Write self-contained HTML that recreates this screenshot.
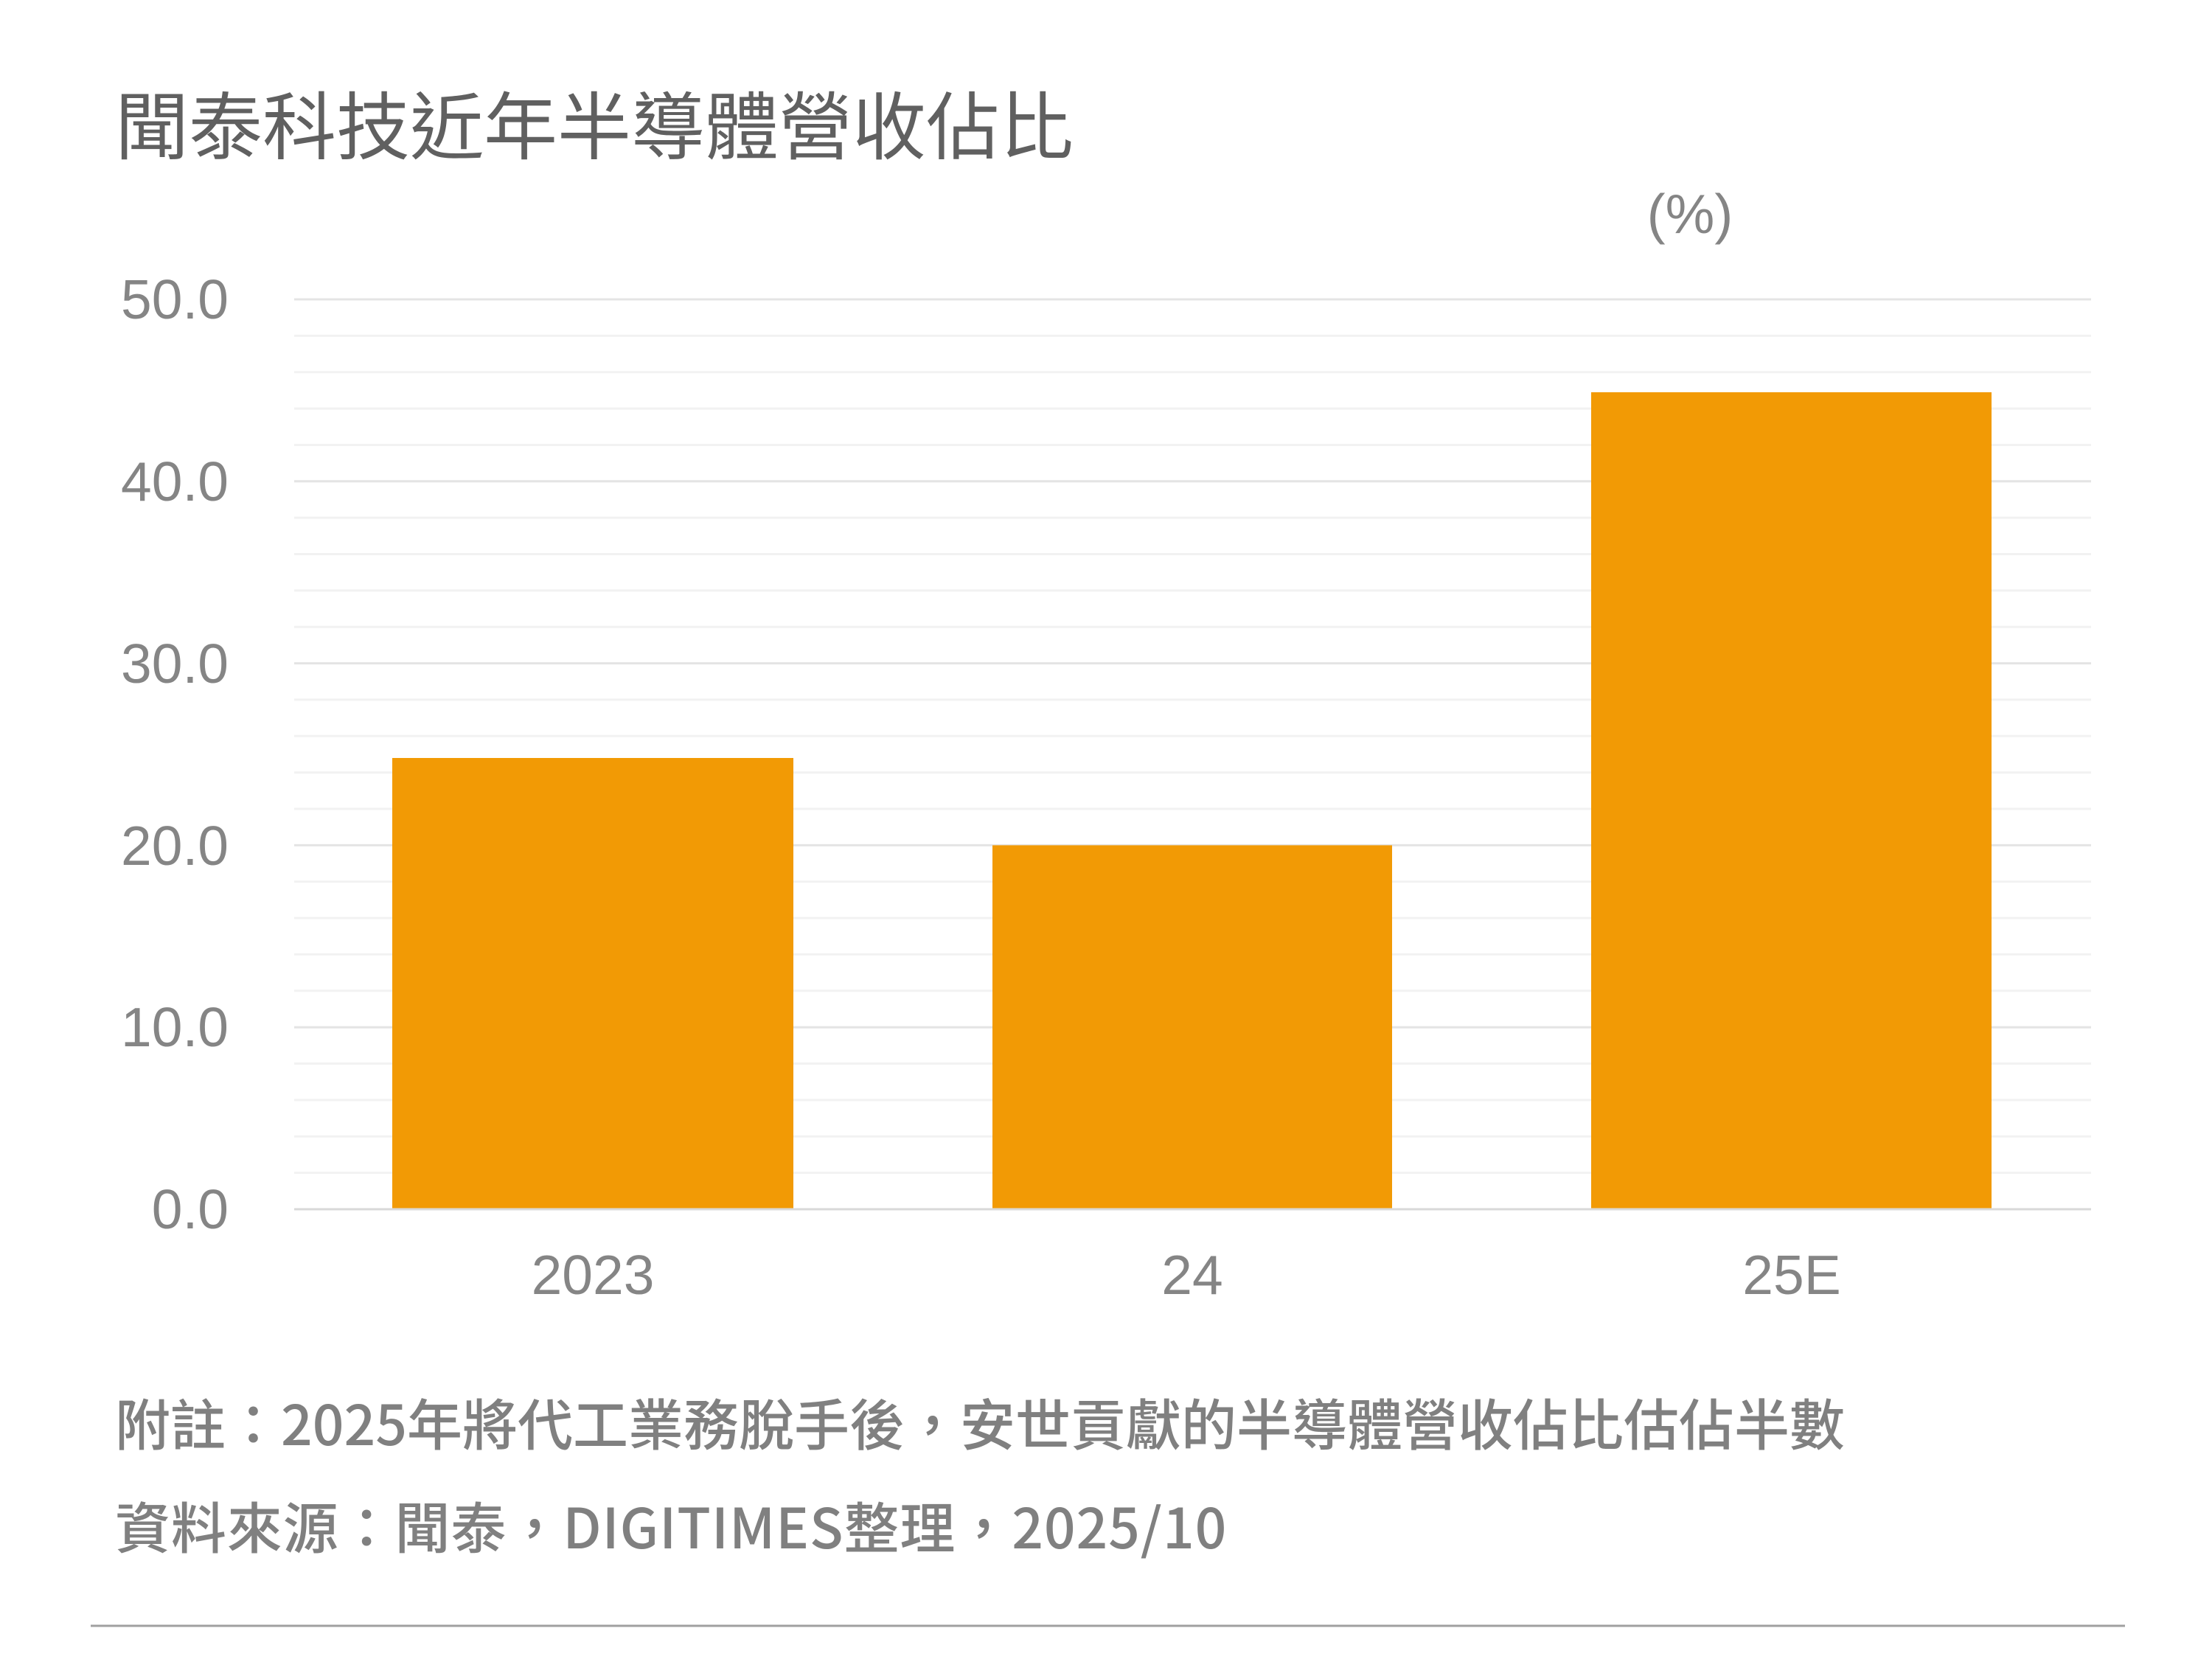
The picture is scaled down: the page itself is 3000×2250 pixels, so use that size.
<!DOCTYPE html>
<html><head><meta charset="utf-8"><style>
html,body{margin:0;padding:0;background:#fff}
body{width:3000px;height:2250px;position:relative;overflow:hidden}
.t{position:absolute;white-space:nowrap}
.n{font-size:75px;line-height:100px;color:#808080;font-weight:500;font-family:'Noto Sans CJK TC','Liberation Sans',sans-serif;}
</style></head><body>
<div class="t" style="left:156px;top:104px;font-size:100px;line-height:140px;color:#606060;font-family:'Liberation Sans','Noto Sans CJK TC',sans-serif;">聞泰科技近年半導體營收佔比</div>
<svg width="3000" height="2250" style="position:absolute;left:0;top:0" font-family="Liberation Sans, sans-serif">
<g stroke="#f2f2f2" stroke-width="3">
<line x1="399" x2="2836" y1="455.4" y2="455.4"/><line x1="399" x2="2836" y1="504.8" y2="504.8"/><line x1="399" x2="2836" y1="554.1" y2="554.1"/><line x1="399" x2="2836" y1="603.5" y2="603.5"/>
<line x1="399" x2="2836" y1="702.1" y2="702.1"/><line x1="399" x2="2836" y1="751.5" y2="751.5"/><line x1="399" x2="2836" y1="800.9" y2="800.9"/><line x1="399" x2="2836" y1="850.2" y2="850.2"/>
<line x1="399" x2="2836" y1="948.9" y2="948.9"/><line x1="399" x2="2836" y1="998.3" y2="998.3"/><line x1="399" x2="2836" y1="1047.7" y2="1047.7"/><line x1="399" x2="2836" y1="1097" y2="1097"/>
<line x1="399" x2="2836" y1="1195.7" y2="1195.7"/><line x1="399" x2="2836" y1="1245.1" y2="1245.1"/><line x1="399" x2="2836" y1="1294.4" y2="1294.4"/><line x1="399" x2="2836" y1="1343.8" y2="1343.8"/>
<line x1="399" x2="2836" y1="1442.5" y2="1442.5"/><line x1="399" x2="2836" y1="1491.9" y2="1491.9"/><line x1="399" x2="2836" y1="1541.2" y2="1541.2"/><line x1="399" x2="2836" y1="1590.6" y2="1590.6"/>
</g>
<g stroke="#e4e4e4" stroke-width="3">
<line x1="399" x2="2836" y1="406" y2="406"/><line x1="399" x2="2836" y1="652.8" y2="652.8"/><line x1="399" x2="2836" y1="899.6" y2="899.6"/><line x1="399" x2="2836" y1="1146.4" y2="1146.4"/><line x1="399" x2="2836" y1="1393.2" y2="1393.2"/>
</g>
<rect x="532" y="1028" width="544" height="612" fill="#F29A05"/>
<rect x="1346" y="1146.4" width="542" height="493.6" fill="#F29A05"/>
<rect x="2158" y="532" width="543" height="1108" fill="#F29A05"/>
<line x1="399" x2="2836" y1="1640" y2="1640" stroke="#d9d9d9" stroke-width="3"/>
<g fill="#858585" font-size="75" text-anchor="end">
<text x="310" y="432">50.0</text><text x="310" y="679">40.0</text><text x="310" y="926">30.0</text><text x="310" y="1173">20.0</text><text x="310" y="1419">10.0</text><text x="310" y="1666">0.0</text>
</g>
<g fill="#858585" font-size="75" text-anchor="middle">
<text x="804" y="1755">2023</text><text x="1617" y="1755">24</text><text x="2430" y="1755">25E</text>
<text x="2292" y="316">(%)</text>
</g>
<line x1="123" x2="2882" y1="2205" y2="2205" stroke="#a0a0a0" stroke-width="3"/>
</svg>
<div class="t n" style="left:156px;top:1878px;">附註：2025年將代工業務脫手後，安世貢獻的半導體營收佔比估佔半數</div>
<div class="t n" style="left:156px;top:2018px;letter-spacing:0.9px;">資料來源：聞泰，DIGITIMES整理，2025/10</div>
</body></html>
